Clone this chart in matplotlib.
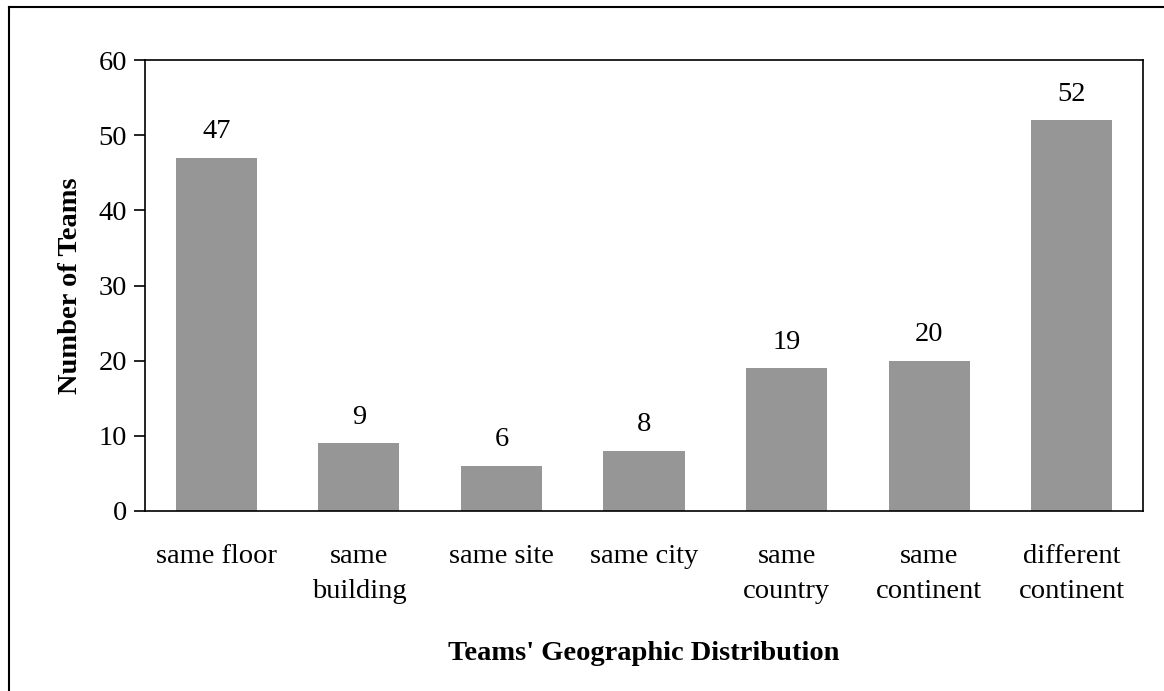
import matplotlib
matplotlib.use("Agg")
from matplotlib import pyplot as plt
from matplotlib.lines import Line2D

categories = ["same floor", "same\nbuilding", "same site", "same city",
              "same\ncountry", "same\ncontinent", "different\ncontinent"]
teams = [47, 9, 6, 8, 19, 20, 52]

plt.rcParams['font.family'] = ['Liberation Serif', 'DejaVu Serif']
fs = 20.5

fig = plt.figure(figsize=(11.64, 6.91), dpi=100)
ax = fig.add_axes([145 / 1164, 1 - 511 / 691, (1143 - 145) / 1164, (511 - 60) / 691])

x = range(len(categories))
ax.bar(x, teams, width=0.57, color='#969696')
for i, v in zip(x, teams):
    ax.text(i, v + 1.8, str(v), ha='center', va='bottom', fontsize=fs)

ax.set_xlim(-0.5, len(categories) - 0.5)
ax.set_ylim(0, 60)
ax.set_yticks(range(0, 61, 10))
ax.tick_params(axis='y', labelsize=fs, direction='out', length=8, width=1.2, pad=5)
ax.set_xticks(list(x))
ax.set_xticklabels(categories, fontsize=fs, linespacing=1.5)
ax.tick_params(axis='x', length=0, pad=24)
for s in ax.spines.values():
    s.set_linewidth(1.2)

ax.set_ylabel('Number of Teams', fontsize=fs, fontweight='bold', labelpad=11)
ax.set_xlabel("Teams' Geographic Distribution", fontsize=fs, fontweight='bold', labelpad=27)

# outer frame (cut off at right and bottom in the original)
fig.add_artist(Line2D([9 / 1164, 9 / 1164], [0, 1 - 7 / 691], transform=fig.transFigure, color='black', lw=1.5))
fig.add_artist(Line2D([9 / 1164, 1], [1 - 7 / 691, 1 - 7 / 691], transform=fig.transFigure, color='black', lw=1.5))

fig.savefig('out.png', dpi=100)
